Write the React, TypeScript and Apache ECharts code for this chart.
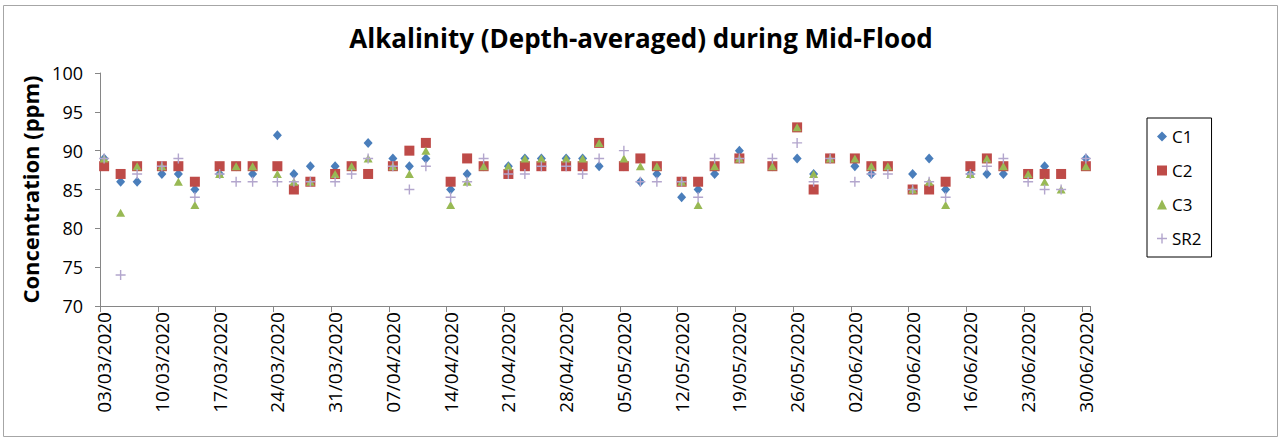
import React, { useEffect, useRef } from "react";
import * as echarts from "echarts";

// Sampling days (Tue / Thu / Sat runs)
const sampleDates = [
  "03/03/2020", "05/03/2020", "07/03/2020", "10/03/2020", "12/03/2020", "14/03/2020",
  "17/03/2020", "19/03/2020", "21/03/2020", "24/03/2020", "26/03/2020", "28/03/2020",
  "31/03/2020", "02/04/2020", "04/04/2020", "07/04/2020", "09/04/2020", "11/04/2020",
  "14/04/2020", "16/04/2020", "18/04/2020", "21/04/2020", "23/04/2020", "25/04/2020",
  "28/04/2020", "30/04/2020", "02/05/2020", "05/05/2020", "07/05/2020", "09/05/2020",
  "12/05/2020", "14/05/2020", "16/05/2020", "19/05/2020", "23/05/2020", "26/05/2020",
  "28/05/2020", "30/05/2020", "02/06/2020", "04/06/2020", "06/06/2020", "09/06/2020",
  "11/06/2020", "13/06/2020", "16/06/2020", "18/06/2020", "20/06/2020", "23/06/2020",
  "25/06/2020", "27/06/2020", "30/06/2020",
];

const c1 = [
  89, 86, 86, 87, 87, 85, 87, 88, 87, 92, 87, 88, 88, 88, 91, 89, 88, 89,
  85, 87, 88, 88, 89, 89, 89, 89, 88, 88, 86, 87, 84, 85, 87, 90, 88, 89,
  87, 89, 88, 87, 88, 87, 89, 85, 87, 87, 87, 87, 88, 87, 89,
];
const c2 = [
  88, 87, 88, 88, 88, 86, 88, 88, 88, 88, 85, 86, 87, 88, 87, 88, 90, 91,
  86, 89, 88, 87, 88, 88, 88, 88, 91, 88, 89, 88, 86, 86, 88, 89, 88, 93,
  85, 89, 89, 88, 88, 85, 85, 86, 88, 89, 88, 87, 87, 87, 88,
];
const c3 = [
  89, 82, 88, 88, 86, 83, 87, 88, 88, 87, 86, 86, 87, 88, 89, 88, 87, 90,
  83, 86, 88, 88, 89, 89, 89, 89, 91, 89, 88, 88, 86, 83, 88, 89, 88, 93,
  87, 89, 89, 88, 88, 85, 86, 83, 87, 89, 88, 87, 86, 85, 88,
];
const sr2 = [
  89, 74, 87, 88, 89, 84, 87, 86, 86, 86, 86, 86, 86, 87, 89, 88, 85, 88,
  84, 86, 89, 87, 87, 88, 88, 87, 89, 90, 86, 86, 86, 84, 89, 89, 89, 91,
  86, 89, 86, 87, 87, 85, 86, 84, 87, 88, 89, 86, 85, 85, 89,
];

const yTicks = { min: 70, max: 100, interval: 5 };
const firstDay = "2020-03-03";
const lastDay = "2020-06-30";

const FONT = "'Open Sans', 'Liberation Sans', sans-serif";
const PLUS =
  "path://M4.3,0h1.4v4.3h4.3v1.4h-4.3v4.3h-1.4v-4.3h-4.3v-1.4h4.3z";

// Daily category axis covering the whole sampling window
function dayCategories(from: string, to: string): string[] {
  const out: string[] = [];
  const d = new Date(from + "T00:00:00Z");
  const end = new Date(to + "T00:00:00Z");
  while (d.getTime() <= end.getTime()) {
    const dd = String(d.getUTCDate()).padStart(2, "0");
    const mm = String(d.getUTCMonth() + 1).padStart(2, "0");
    out.push(`${dd}/${mm}/${d.getUTCFullYear()}`);
    d.setUTCDate(d.getUTCDate() + 1);
  }
  return out;
}

const pairs = (vals: number[]) => sampleDates.map((d, i) => [d, vals[i]]);

export default function App() {
  const ref = useRef<HTMLDivElement>(null);

  useEffect(() => {
    document.body.style.margin = "0";
    if (!ref.current) return;
    const chart = echarts.init(ref.current, undefined, { renderer: "svg" });
    const days = dayCategories(firstDay, lastDay);

    chart.setOption({
      animation: false,
      backgroundColor: "#ffffff",
      textStyle: { fontFamily: FONT },
      title: {
        text: "Alkalinity (Depth-averaged) during Mid-Flood",
        left: "center",
        top: 20,
        textStyle: { fontFamily: FONT, fontSize: 26, fontWeight: "bold", color: "#000" },
      },
      graphic: [
        {
          type: "rect",
          shape: { x: 3.5, y: 5.5, width: 1274, height: 431 },
          style: { fill: "none", stroke: "#a6a6a6", lineWidth: 1 },
          silent: true,
        },
      ],
      legend: {
        orient: "vertical",
        left: 1147,
        top: 118,
        width: 64,
        padding: [8, 10, 8, 10],
        itemGap: 13,
        itemWidth: 10,
        itemHeight: 10,
        borderColor: "#000",
        borderWidth: 1,
        textStyle: { fontFamily: FONT, fontSize: 17, color: "#000", lineHeight: 21 },
        data: ["C1", "C2", "C3", "SR2"],
      },
      grid: { left: 100, right: 192, top: 73, bottom: 133, containLabel: false },
      xAxis: {
        type: "category",
        data: days,
        boundaryGap: true,
        axisLine: { lineStyle: { color: "#868686" } },
        axisTick: { show: true, interval: 6, length: 6, lineStyle: { color: "#868686" } },
        axisLabel: {
          interval: 6,
          rotate: 90,
          margin: 6,
          fontFamily: FONT,
          fontSize: 19,
          color: "#000",
        },
        splitLine: { show: false },
      },
      yAxis: {
        type: "value",
        min: yTicks.min,
        max: yTicks.max,
        interval: yTicks.interval,
        name: "Concentration (ppm)",
        nameLocation: "middle",
        nameRotate: 90,
        nameGap: 56,
        nameTextStyle: { fontFamily: FONT, fontSize: 22, fontWeight: "bold", color: "#000" },
        axisLine: { show: true, lineStyle: { color: "#868686" } },
        axisTick: { show: true, length: 5, lineStyle: { color: "#868686" } },
        axisLabel: { margin: 17, fontFamily: FONT, fontSize: 18, color: "#000" },
        splitLine: { show: false },
      },
      series: [
        {
          name: "C1",
          type: "scatter",
          symbol: "diamond",
          symbolSize: [9, 10],
          itemStyle: { color: "#4a7ebb", opacity: 1 },
          data: pairs(c1),
        },
        {
          name: "C2",
          type: "scatter",
          symbol: "rect",
          symbolSize: 10,
          itemStyle: { color: "#be4b48", opacity: 1 },
          data: pairs(c2),
        },
        {
          name: "C3",
          type: "scatter",
          symbol: "triangle",
          symbolSize: [9, 8],
          itemStyle: { color: "#98b954", opacity: 1 },
          data: pairs(c3),
        },
        {
          name: "SR2",
          type: "scatter",
          symbol: PLUS,
          symbolSize: 10,
          itemStyle: { color: "#b3a6cd", opacity: 1 },
          data: pairs(sr2),
        },
      ],
    });

    return () => chart.dispose();
  }, []);

  return <div ref={ref} style={{ width: 1282, height: 439 }} />;
}
